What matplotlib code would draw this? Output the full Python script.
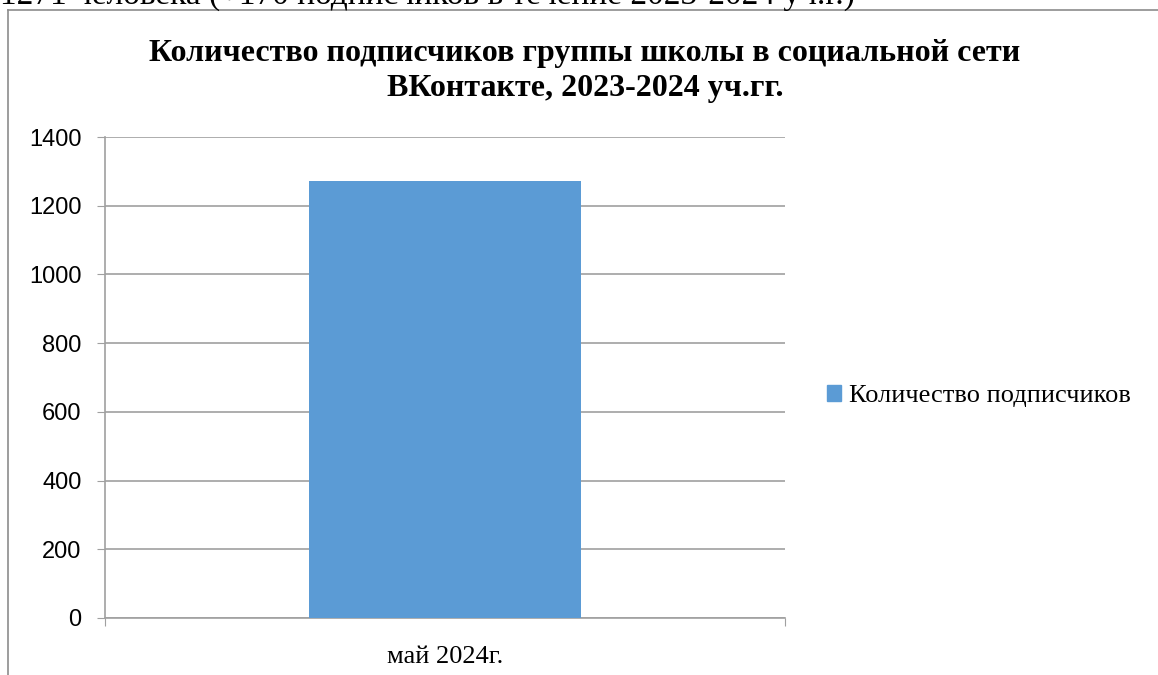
import matplotlib.pyplot as plt
from matplotlib.lines import Line2D
from matplotlib.patches import Patch

categories = ['май 2024г.']
subscribers = [1271]
series_name = 'Количество подписчиков'
title = 'Количество подписчиков группы школы в социальной сети\nВКонтакте, 2023-2024 уч.гг.'
above_text = '1271 человека (+170 подписчиков в течение 2023-2024 уч.г.)'
yticks = [0, 200, 400, 600, 800, 1000, 1200, 1400]

bar_color = '#5B9BD5'
grid_color = '#A0A0A0'
serif = 'Liberation Serif'

fig = plt.figure(figsize=(11.58, 6.75), dpi=100)

# text of the document above the chart, cut off at the top
fig.text(0.0, 1 - 4 / 675, above_text, fontsize=24, family=serif,
         ha='left', va='baseline')

# chart frame (only top and left are inside the picture)
fig.add_artist(Line2D([8 / 1158, 8 / 1158], [1 - 10 / 675, 0], color='#8C8C8C', lw=1.2))
fig.add_artist(Line2D([8 / 1158, 1.0], [1 - 10 / 675, 1 - 10 / 675], color='#8C8C8C', lw=1.2))

ax = fig.add_axes([105 / 1158, 1 - 618 / 675, 680 / 1158, 481 / 675])
x = range(len(categories))
ax.bar(x, subscribers, width=0.4, color=bar_color, zorder=3)
ax.set_xlim(-0.5, len(categories) - 0.5)
ax.set_ylim(0, 1400)
ax.set_yticks(yticks)
ax.set_yticklabels([str(v) for v in yticks], fontsize=17, family='Liberation Sans')
ax.set_xticks([i - 0.5 for i in range(len(categories) + 1)], minor=False)
ax.set_xticklabels([''] * (len(categories) + 1))
ax.set_xticks(list(x), minor=True)
ax.set_xticklabels(categories, minor=True, fontsize=19, family=serif)
ax.tick_params(axis='x', which='minor', length=0, pad=20)
ax.tick_params(axis='x', which='major', length=6, color=grid_color, direction='out')
ax.tick_params(axis='y', length=6, color=grid_color, pad=11)
ax.grid(axis='y', color=grid_color, lw=1.2, zorder=0)
for s in ['top', 'right']:
    ax.spines[s].set_visible(False)
for s in ['left', 'bottom']:
    ax.spines[s].set_color(grid_color)
    ax.spines[s].set_linewidth(1.2)

fig.text(585 / 1158, 1 - 71 / 675, title, fontsize=23, fontweight='bold', family=serif,
         ha='center', va='center', linespacing=1.3)

fig.legend(handles=[Patch(color=bar_color, label=series_name)],
           loc='center left', bbox_to_anchor=(803 / 1158, 1 - 396 / 675),
           frameon=False, handlelength=0.55, handleheight=0.55, handletextpad=0.3,
           prop={'family': serif, 'size': 19})

fig.savefig('out.png', dpi=100)
